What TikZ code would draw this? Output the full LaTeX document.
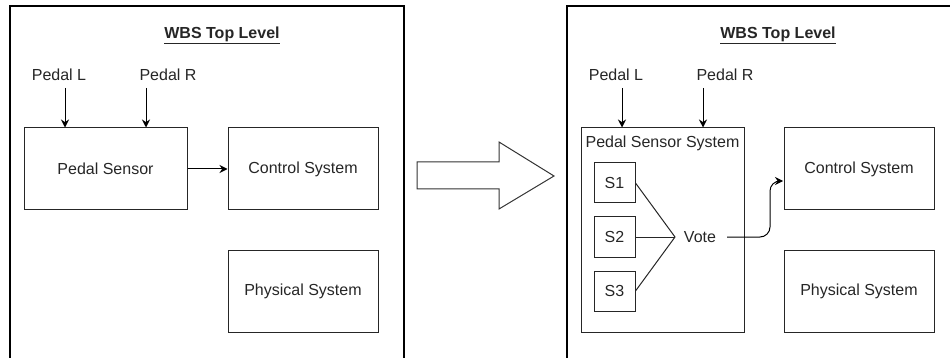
\documentclass[tikz,border=0pt]{standalone}
\usepackage{fontspec}
\setmainfont{Liberation Sans}
\usetikzlibrary{arrows.meta}
\begin{document}
\begin{tikzpicture}[x=1pt,y=-1pt,
  every node/.style={font=\fontsize{16}{19}\selectfont, text=black!85},
  frame/.style={draw=black, line width=1.2pt},
  blk/.style={draw=black!85, line width=1pt, inner sep=0pt},
  lbl/.style={inner sep=0pt},
  arr/.style={draw=black, line width=1pt, -{Stealth[length=8pt,width=8pt]}},
  ln/.style={draw=black!85, line width=1pt}]
\useasboundingbox (0,0) rectangle (950,358);
% frames
\draw[frame] (10,362) -- (10,6) -- (404,6) -- (404,362);
\draw[frame] (567,362) -- (567,6) -- (955,6);
% ---------- left panel ----------
\node[lbl] (titleL) at (222,35) {\underline{\textbf{WBS Top Level}}};
\node[lbl] (pedLL) at (59,75) {Pedal L};
\node[lbl] (pedRL) at (168,75) {Pedal R};
\node[blk, minimum width=163pt, minimum height=82pt] (psL) at (105.5,169) {Pedal Sensor};
\node[blk, minimum width=150pt, minimum height=82pt] (csL) at (303,169) {Control System};
\node[blk, minimum width=150pt, minimum height=82pt] (phL) at (303,291) {Physical System};
\coordinate (aLL) at (65,88);
\coordinate (aRL) at (146,88);
\draw[arr] (aLL) -- (aLL |- psL.north);
\draw[arr] (aRL) -- (aRL |- psL.north);
\draw[arr] (psL.east) -- (csL.west);
% ---------- big arrow ----------
\draw[line width=1pt, draw=black!80] (417,162) -- (499,162) -- (499,142) -- (554,176) -- (499,209) -- (499,189) -- (417,189) -- cycle;
% ---------- right panel ----------
\node[lbl] (titleR) at (778,35) {\underline{\textbf{WBS Top Level}}};
\node[lbl] (pedLR) at (616,75) {Pedal L};
\node[lbl] (pedRR) at (725,75) {Pedal R};
\node[blk, minimum width=163pt, minimum height=204pt] (pss) at (662.5,230) {};
\node[lbl] (pssl) at (662.5,143) {Pedal Sensor System};
\node[blk, minimum width=41pt, minimum height=40pt] (s1) at (614.5,183) {S1};
\node[blk, minimum width=41pt, minimum height=40pt] (s2) at (614.5,237) {S2};
\node[blk, minimum width=41pt, minimum height=40pt] (s3) at (614.5,291) {S3};
\node[lbl, inner xsep=11pt] (vote) at (700,237) {Vote};
\coordinate (vx) at (675,237);
\draw[ln] (s1.east) -- (vx);
\draw[ln] (s2.east) -- (vx);
\draw[ln] (s3.east) -- (vx);
\node[blk, minimum width=150pt, minimum height=82pt] (csR) at (859,169) {Control System};
\node[blk, minimum width=150pt, minimum height=82pt] (phR) at (859,291) {Physical System};
\coordinate (aLR) at (622,88);
\coordinate (aRR) at (703,88);
\draw[arr] (aLR) -- (aLR |- pss.north);
\draw[arr] (aRR) -- (aRR |- pss.north);
\coordinate (tipR) at (783,181);
\draw[arr, rounded corners=10pt] (vote.east) -- (770,237) -- (770,181) -- (tipR);
\end{tikzpicture}
\end{document}
